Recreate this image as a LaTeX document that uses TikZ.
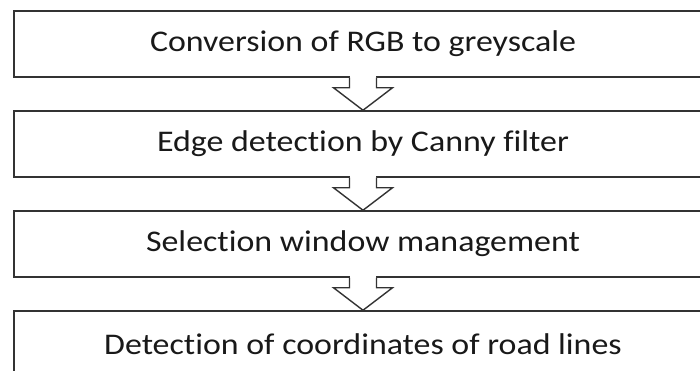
\documentclass[tikz,border=0pt]{standalone}
\usepackage{fontspec}
\setmainfont{Carlito}[FakeStretch=1.13, Ligatures=NoCommon]
\usetikzlibrary{calc}
\definecolor{linecol}{HTML}{333333}
\tikzset{
  stepbox/.style={draw=linecol, line width=1.5pt, fill=white, rectangle,
    minimum width=698pt, minimum height=66pt, inner sep=0pt,
    font=\fontsize{30}{34}\selectfont, text=black!90},
  flowarrow/.style={draw=linecol, line width=1.4pt, fill=white, line join=miter}
}
\newcommand{\blockarrow}[2]{%
  \fill[white] ($(#1.south)+(-12.8,-1.5)$) rectangle ($(#1.south)+(12.8,1.5)$);
  \filldraw[flowarrow] ($(#1.south)+(-13.5,0)$) -- ($(#1.south)+(-13.5,10)$)
    -- ($(#1.south)+(-29.5,10)$) -- (#2.north) -- ($(#1.south)+(29.5,10)$)
    -- ($(#1.south)+(13.5,10)$) -- ($(#1.south)+(13.5,0)$);
}
\begin{document}
\begin{tikzpicture}[x=1pt,y=-1pt]
\useasboundingbox (0,0) rectangle (700,371);
\fill[white] (0,0) rectangle (700,371);
\node[stepbox] (b1) at (363,44) {Conversion of RGB to greyscale};
\node[stepbox] (b2) at (363,144) {Edge detection by Canny filter};
\node[stepbox] (b3) at (363,244) {Selection window management};
\node[stepbox] (b4) at (363,344) {Detection of coordinates of road lines};
\blockarrow{b1}{b2}
\blockarrow{b2}{b3}
\blockarrow{b3}{b4}
\end{tikzpicture}
\end{document}
